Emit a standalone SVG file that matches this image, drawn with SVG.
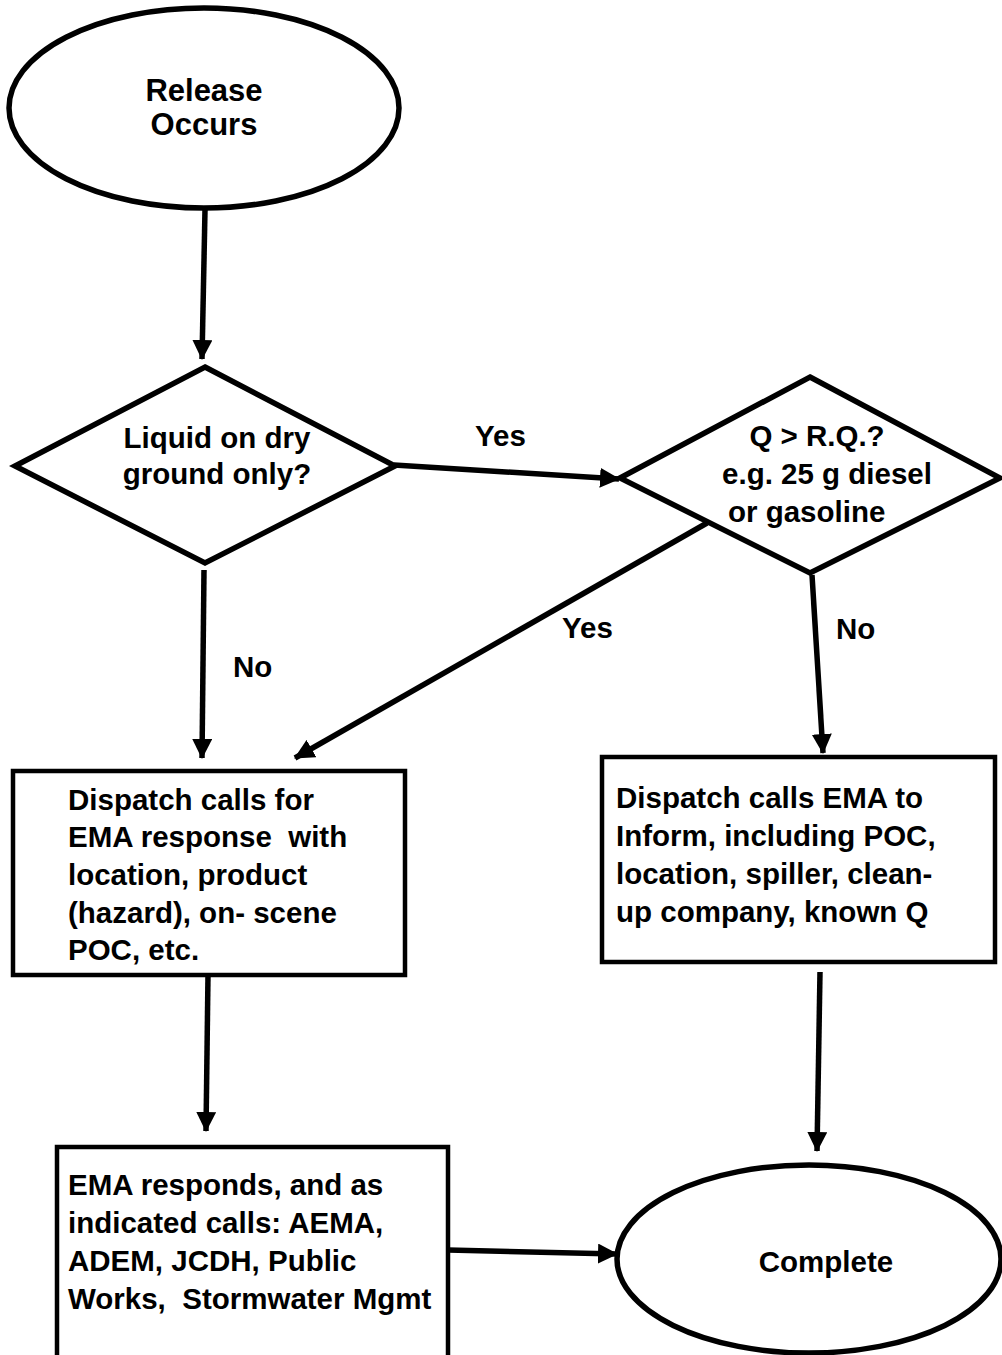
<svg xmlns="http://www.w3.org/2000/svg" width="1002" height="1355" viewBox="0 0 1002 1355">
<style>
.shape{fill:#fff;stroke:#000;stroke-width:5.5}
.box{fill:#fff;stroke:#000;stroke-width:4.5}
.t{font-family:"Liberation Sans",Arial,sans-serif;font-weight:bold;font-size:29.5px;fill:#000;white-space:pre}
.c{text-anchor:middle}
.conn{stroke:#000;stroke-width:5.5;fill:none;marker-end:url(#ah)}
</style>
<defs>
<marker id="ah" markerUnits="userSpaceOnUse" markerWidth="20" markerHeight="20" refX="19" refY="10" orient="auto">
<path d="M0,0 L20,10 L0,20 z" fill="#000"/>
</marker>
</defs>
<rect width="1002" height="1355" fill="#fff"/>
<g id="connectors">
<line class="conn" x1="205" y1="210" x2="202" y2="359"/>
<line class="conn" x1="394" y1="465" x2="619" y2="479"/>
<line class="conn" x1="204" y1="570" x2="202" y2="758"/>
<line class="conn" x1="707" y1="523" x2="295" y2="758"/>
<line class="conn" x1="812" y1="575" x2="823" y2="753"/>
<line class="conn" x1="208" y1="975" x2="206" y2="1131"/>
<line class="conn" x1="820" y1="972" x2="817" y2="1151"/>
<line class="conn" x1="448" y1="1250" x2="617" y2="1254"/>
<text class="t" x="475" y="446">Yes</text>
<text class="t" x="233" y="677">No</text>
<text class="t" x="562" y="638">Yes</text>
<text class="t" x="836" y="639">No</text>
</g>
<g id="release">
<ellipse class="shape" cx="204" cy="108" rx="195" ry="100"/>
<text class="t c" style="font-size:31px" x="204" y="101">Release</text>
<text class="t c" style="font-size:31px" x="204" y="135">Occurs</text>
</g>
<g id="liquid">
<polygon class="shape" points="205,367 395,466 205,563 15,466"/>
<text class="t c" x="217" y="448">Liquid on dry</text>
<text class="t c" x="217" y="484">ground only?</text>
</g>
<g id="rq">
<polygon class="shape" points="810,377 1000,478 810,573 620,478"/>
<text class="t c" x="817" y="446">Q &gt; R.Q.?</text>
<text class="t c" x="827" y="484">e.g. 25 g diesel</text>
<text class="t" x="728" y="522">or gasoline</text>
</g>
<g id="dispatch-response">
<rect class="box" x="13" y="771" width="392" height="204"/>
<text class="t" x="68" y="810">Dispatch calls for</text>
<text class="t" x="68" y="847">EMA response  with</text>
<text class="t" x="68" y="885">location, product</text>
<text class="t" x="68" y="923">(hazard), on- scene</text>
<text class="t" x="68" y="960">POC, etc.</text>
</g>
<g id="dispatch-inform">
<rect class="box" x="602" y="757" width="393" height="205"/>
<text class="t" x="616" y="808">Dispatch calls EMA to</text>
<text class="t" x="616" y="846">Inform, including POC,</text>
<text class="t" x="616" y="884">location, spiller, clean-</text>
<text class="t" x="616" y="922">up company, known Q</text>
</g>
<g id="ema-responds">
<rect class="box" x="57" y="1147" width="391" height="220"/>
<text class="t" x="68" y="1195">EMA responds, and as</text>
<text class="t" x="68" y="1233">indicated calls: AEMA,</text>
<text class="t" x="68" y="1271">ADEM, JCDH, Public</text>
<text class="t" x="68" y="1309">Works,  Stormwater Mgmt</text>
</g>
<g id="complete">
<ellipse class="shape" cx="809" cy="1259" rx="192" ry="94"/>
<text class="t c" x="826" y="1272">Complete</text>
</g>
</svg>
